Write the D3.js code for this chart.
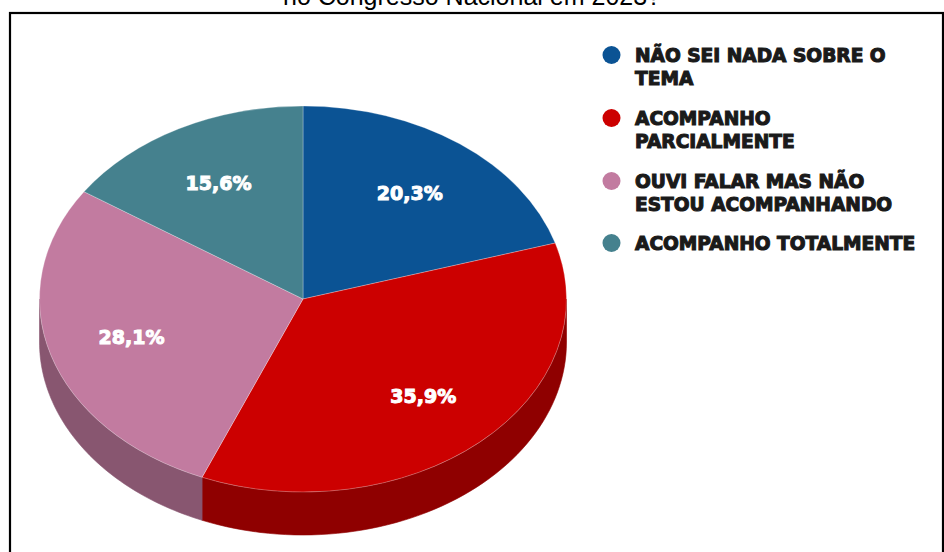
<!DOCTYPE html>
<html>
<head>
<meta charset="utf-8">
<script src="https://cdn.jsdelivr.net/npm/d3@7"></script>
<style>
  body { margin: 0; background: #fff; overflow: hidden; }
  svg { display: block; }
</style>
</head>
<body>
<script>
// dados do gráfico
var categorias = ["NÃO SEI NADA SOBRE O TEMA", "ACOMPANHO PARCIALMENTE", "OUVI FALAR MAS NÃO ESTOU ACOMPANHANDO", "ACOMPANHO TOTALMENTE"];
var linhasLegenda = [["NÃO SEI NADA SOBRE O", "TEMA"], ["ACOMPANHO", "PARCIALMENTE"], ["OUVI FALAR MAS NÃO", "ESTOU ACOMPANHANDO"], ["ACOMPANHO TOTALMENTE"]];
var valores = [20.3, 35.9, 28.1, 15.6];
var rotulos = ["20,3%", "35,9%", "28,1%", "15,6%"];
var cores = ["#0b5394", "#cc0000", "#c27ba0", "#45818e"];
var coresLado = ["#083b6a", "#8f0000", "#885670", "#305a63"];
var titulo = "no Congresso Nacional em 2023?";

var width = 944, height = 552;
var cx = 303, cy = 299, rx = 263.5, ry = 193, depth = 43;
var k = ry / rx;

var svg = d3.select("body").append("svg")
    .attr("width", width)
    .attr("height", height);

// titulo (cortado no topo, como na imagem original)
svg.append("text")
    .attr("x", 472)
    .attr("y", 5)
    .attr("text-anchor", "middle")
    .style("font-family", "'Liberation Sans', Arial, sans-serif")
    .style("font-size", "25px")
    .style("fill", "#000")
    .text(titulo);

// moldura
svg.append("rect")
    .attr("x", 10)
    .attr("y", 13)
    .attr("width", 933)
    .attr("height", 560)
    .attr("fill", "none")
    .attr("stroke", "#000")
    .attr("stroke-width", 2.2);

var pie = d3.pie().sort(null).value(function (d) { return d; });
var fatias = pie(valores);

// ponto na elipse para um angulo (0 = topo, sentido horario)
function ponto(a, dy) {
    return [cx + rx * Math.sin(a), cy - ry * Math.cos(a) + dy];
}

var linha = d3.line();

// lateral 3D (so a metade da frente)
var lado = svg.append("g");
fatias.forEach(function (s, i) {
    var a0 = Math.max(s.startAngle, Math.PI / 2);
    var a1 = Math.min(s.endAngle, 3 * Math.PI / 2);
    if (a1 <= a0) return;
    var angs = d3.range(0, 61).map(function (j) { return a0 + (a1 - a0) * j / 60; });
    var pts = angs.map(function (a) { return ponto(a, 0); })
        .concat(angs.slice().reverse().map(function (a) { return ponto(a, depth); }));
    lado.append("path")
        .attr("d", linha(pts) + "Z")
        .attr("fill", coresLado[i])
        .attr("stroke", coresLado[i])
        .attr("stroke-width", 0.6);
});

// tampa
var arco = d3.arc().innerRadius(0).outerRadius(rx);
var tampa = svg.append("g")
    .attr("transform", "translate(" + cx + "," + cy + ") scale(1," + k + ")");
tampa.selectAll("path")
    .data(fatias)
    .enter()
    .append("path")
    .attr("d", arco)
    .attr("fill", function (d, i) { return cores[i]; })
    .attr("stroke", "rgba(255,255,255,0.35)")
    .attr("stroke-width", 0.8)
    .attr("vector-effect", "non-scaling-stroke");

// rotulos de porcentagem
var arcoRotulo = d3.arc().innerRadius(rx * 0.68).outerRadius(rx * 0.68);
svg.append("g")
    .selectAll("text")
    .data(fatias)
    .enter()
    .append("text")
    .attr("x", function (d) { return cx + arcoRotulo.centroid(d)[0]; })
    .attr("y", function (d) { return cy + arcoRotulo.centroid(d)[1] * k; })
    .attr("dy", "0.36em")
    .attr("text-anchor", "middle")
    .style("font-family", "'DejaVu Sans', sans-serif")
    .style("font-weight", "bold")
    .style("font-size", "19px")
    .style("fill", "#fff")
    .style("stroke", "#fff")
    .style("stroke-width", 1)
    .text(function (d, i) { return rotulos[i]; });

// legenda
var legYs = [55, 118, 181, 243];
var leg = svg.append("g");
linhasLegenda.forEach(function (linhas, i) {
    leg.append("circle")
        .attr("cx", 611.5)
        .attr("cy", legYs[i])
        .attr("r", 9)
        .attr("fill", cores[i]);
    var t = leg.append("text")
        .attr("x", 635)
        .attr("y", legYs[i] + 7)
        .style("font-family", "'DejaVu Sans', sans-serif")
        .style("font-weight", "bold")
        .style("font-size", "18.6px")
        .style("fill", "#1a1a1a")
        .style("stroke", "#1a1a1a")
        .style("stroke-width", 1.1);
    linhas.forEach(function (l, j) {
        t.append("tspan")
            .attr("x", 635)
            .attr("dy", j === 0 ? 0 : 23)
            .text(l);
    });
});
</script>
</body>
</html>
